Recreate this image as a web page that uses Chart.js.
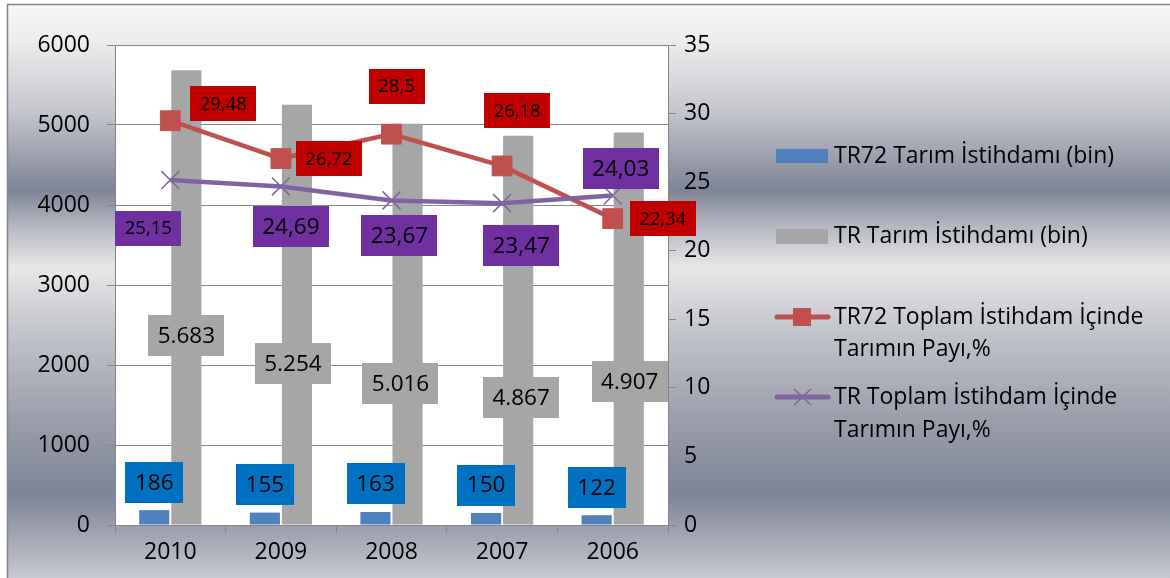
<!DOCTYPE html>
<html><head><meta charset="utf-8">
<script src="https://cdn.jsdelivr.net/npm/chart.js@4/dist/chart.umd.min.js"></script>
<style>html,body{margin:0;padding:0;background:#fff;}#wrap{width:1170px;height:578px;}</style>
</head><body><div id="wrap"><canvas id="c" width="1170" height="578"></canvas></div>
<script>
// ---- data ----
const categories = ['2010', '2009', '2008', '2007', '2006'];
const tr72Employment = [186, 155, 163, 150, 122];
const trEmployment = [5683, 5254, 5016, 4867, 4907];
const tr72Share = [29.48, 26.72, 28.5, 26.18, 22.34];
const trShare = [25.15, 24.69, 23.67, 23.47, 24.03];
const seriesNames = ['TR72 Tarım İstihdamı (bin)', 'TR Tarım İstihdamı (bin)',
  ['TR72 Toplam İstihdam İçinde', 'Tarımın Payı,%'], ['TR Toplam İstihdam İçinde', 'Tarımın Payı,%']];
const leftTicks = [0, 1000, 2000, 3000, 4000, 5000, 6000];
const rightTicks = [0, 5, 10, 15, 20, 25, 30, 35];

// ---- styles ----
const FONT = "'Open Sans', 'Noto Sans', sans-serif";
const C_BLUE = '#4F81BD', C_GREY = '#A6A6A6', C_RED = '#C0504D', C_PURPLE = '#8064A2';
const fmtShare = v => String(v).replace('.', ',');
const fmtThousands = v => String(v).replace(/\B(?=(\d{3})+(?!\d))/g, '.');

// label placement relative to each mark (dx, dy of label centre)
const labelStyles = [
  { bg: '#0070C0', size: 22.5, h: 41, fmt: String, offsets: [[0,-28],[0,-28],[0,-28],[0,-28],[0,-28]] },
  { bg: '#A6A6A6', size: 22.5, h: 41, fmt: fmtThousands, offsets: [[0,265],[-4,259],[-7,260],[3,262],[1,249]] },
  { bg: '#C00000', size: 18.5, h: 35, fmt: fmtShare, offsets: [[53,-17],[48,0],[5,-48],[15,-55],[50,0]] },
  { bg: '#7030A0', size: [18.5,22.5,22.5,22.5,22.5], h: [35,41,41,41,41], fmt: fmtShare, offsets: [[-22,48],[10,40],[8,35],[19,42],[8,-27]] }
];

const bgPlugin = {
  id: 'bg',
  beforeDraw(chart) {
    const ctx = chart.ctx, W = chart.width, H = chart.height;
    ctx.save();
    ctx.fillStyle = '#fff'; ctx.fillRect(0, 0, W, H);
    const g = ctx.createLinearGradient(0, 4, 0, H);
    g.addColorStop(0, '#f7f7f7');
    g.addColorStop(0.063, '#ededee');
    g.addColorStop(0.185, '#c5c7ce');
    g.addColorStop(0.324, '#7e8497');
    g.addColorStop(0.39, '#b7bac3');
    g.addColorStop(0.46, '#e8e8e8');
    g.addColorStop(0.568, '#c3c5cc');
    g.addColorStop(0.725, '#9a9eab');
    g.addColorStop(0.855, '#7e8497');
    g.addColorStop(1, '#c7c9d0');
    ctx.fillStyle = g; ctx.fillRect(7, 4, W - 7, H - 4);
    ctx.strokeStyle = '#868686'; ctx.lineWidth = 1.5;
    ctx.beginPath(); ctx.moveTo(7.5, H); ctx.lineTo(7.5, 4.5); ctx.lineTo(W, 4.5); ctx.stroke();
    const a = chart.chartArea;
    ctx.fillStyle = '#fff'; ctx.fillRect(a.left, a.top, a.right - a.left, a.bottom - a.top);
    ctx.restore();
  }
};

const labelPlugin = {
  id: 'boxLabels',
  afterDatasetsDraw(chart) {
    const ctx = chart.ctx;
    ctx.save();
    chart.data.datasets.forEach((ds, di) => {
      const st = labelStyles[di];
      const meta = chart.getDatasetMeta(di);
      meta.data.forEach((el, i) => {
        const txt = st.fmt(ds.data[i]);
        const fs = Array.isArray(st.size) ? st.size[i] : st.size;
        const bh = Array.isArray(st.h) ? st.h[i] : st.h;
        ctx.font = fs + 'px ' + FONT;
        const bw = ctx.measureText(txt).width + 19;
        const cx = el.x + st.offsets[i][0], cy = el.y + st.offsets[i][1];
        ctx.fillStyle = st.bg;
        ctx.fillRect(Math.round(cx - bw / 2), Math.round(cy - bh / 2), Math.round(bw), bh);
        ctx.fillStyle = '#000'; ctx.textAlign = 'center'; ctx.textBaseline = 'middle';
        ctx.fillText(txt, cx, cy + 1);
      });
    });
    ctx.restore();
  }
};

const legendPlugin = {
  id: 'sideLegend',
  afterDraw(chart) {
    const ctx = chart.ctx;
    ctx.save();
    ctx.font = '23px ' + FONT; ctx.fillStyle = '#000'; ctx.textAlign = 'left'; ctx.textBaseline = 'middle';
    const tx = 834;
    ctx.fillStyle = C_BLUE; ctx.fillRect(776, 149, 52, 14);
    ctx.fillStyle = C_GREY; ctx.fillRect(776, 229, 52, 15);
    ctx.lineCap = 'round';
    ctx.strokeStyle = C_RED; ctx.lineWidth = 5;
    ctx.beginPath(); ctx.moveTo(777, 317); ctx.lineTo(828, 317); ctx.stroke();
    ctx.fillStyle = C_RED; ctx.fillRect(793, 308, 18, 18);
    ctx.strokeStyle = C_PURPLE; ctx.lineWidth = 5;
    ctx.beginPath(); ctx.moveTo(777, 397); ctx.lineTo(828, 397); ctx.stroke();
    ctx.lineWidth = 1.5; ctx.lineCap = 'butt';
    ctx.beginPath(); ctx.moveTo(794, 389); ctx.lineTo(811, 405); ctx.moveTo(811, 389); ctx.lineTo(794, 405); ctx.stroke();
    ctx.fillStyle = '#000';
    ctx.fillText(seriesNames[0], tx, 156);
    ctx.fillText(seriesNames[1], tx, 236);
    ctx.fillText(seriesNames[2][0], tx, 317);
    ctx.fillText(seriesNames[2][1], tx, 349);
    ctx.fillText(seriesNames[3][0], tx, 397);
    ctx.fillText(seriesNames[3][1], tx, 430);
    ctx.restore();
  }
};

Chart.defaults.font.family = FONT;
Chart.defaults.color = '#000';

new Chart(document.getElementById('c'), {
  type: 'bar',
  data: {
    labels: categories,
    datasets: [
      { type: 'bar', label: seriesNames[0], data: tr72Employment, backgroundColor: C_BLUE, yAxisID: 'y', order: 2,
        categoryPercentage: 0.58, barPercentage: 0.94 },
      { type: 'bar', label: seriesNames[1], data: trEmployment, backgroundColor: C_GREY, yAxisID: 'y', order: 2,
        categoryPercentage: 0.58, barPercentage: 0.94 },
      { type: 'line', label: seriesNames[2].join(' '), data: tr72Share, yAxisID: 'y1', order: 1,
        borderColor: C_RED, borderWidth: 4.5, pointStyle: 'rect', pointRadius: 14,
        pointBackgroundColor: C_RED, pointBorderColor: C_RED, pointBorderWidth: 1, tension: 0 },
      { type: 'line', label: seriesNames[3].join(' '), data: trShare, yAxisID: 'y1', order: 0,
        borderColor: C_PURPLE, borderWidth: 4.5, pointStyle: 'crossRot', pointRadius: 12.7,
        pointBackgroundColor: C_PURPLE, pointBorderColor: C_PURPLE, pointBorderWidth: 1.5, tension: 0 }
    ]
  },
  options: {
    responsive: false, animation: false,
    layout: { padding: { top: 45, left: 0, right: 0, bottom: 0 } },
    plugins: { legend: { display: false }, tooltip: { enabled: false } },
    scales: {
      x: {
        grid: { display: true, drawOnChartArea: false, drawTicks: true, tickLength: 8, color: '#868686', offset: true },
        border: { color: '#868686', width: 1 },
        ticks: { font: { size: 23 }, padding: 6, color: '#000' },
        afterFit(s) { s.height = 53; }
      },
      y: {
        position: 'left', min: 0, max: 6000,
        afterBuildTicks(s) { s.ticks = leftTicks.map(v => ({ value: v })); },
        grid: { color: '#868686', tickLength: 8 },
        border: { color: '#868686', width: 1 },
        ticks: { font: { size: 23 }, padding: 17, color: '#000', callback: v => String(v) },
        afterFit(s) { s.width = 115; }
      },
      y1: {
        position: 'right', min: 0, max: 35,
        afterBuildTicks(s) { s.ticks = rightTicks.map(v => ({ value: v })); },
        grid: { drawOnChartArea: false, color: '#868686', tickLength: 8 },
        border: { color: '#868686', width: 1 },
        ticks: { font: { size: 23 }, padding: 8, color: '#000', callback: v => String(v) },
        afterFit(s) { s.width = 502; }
      }
    }
  },
  plugins: [bgPlugin, labelPlugin, legendPlugin]
});
</script>
</body></html>
